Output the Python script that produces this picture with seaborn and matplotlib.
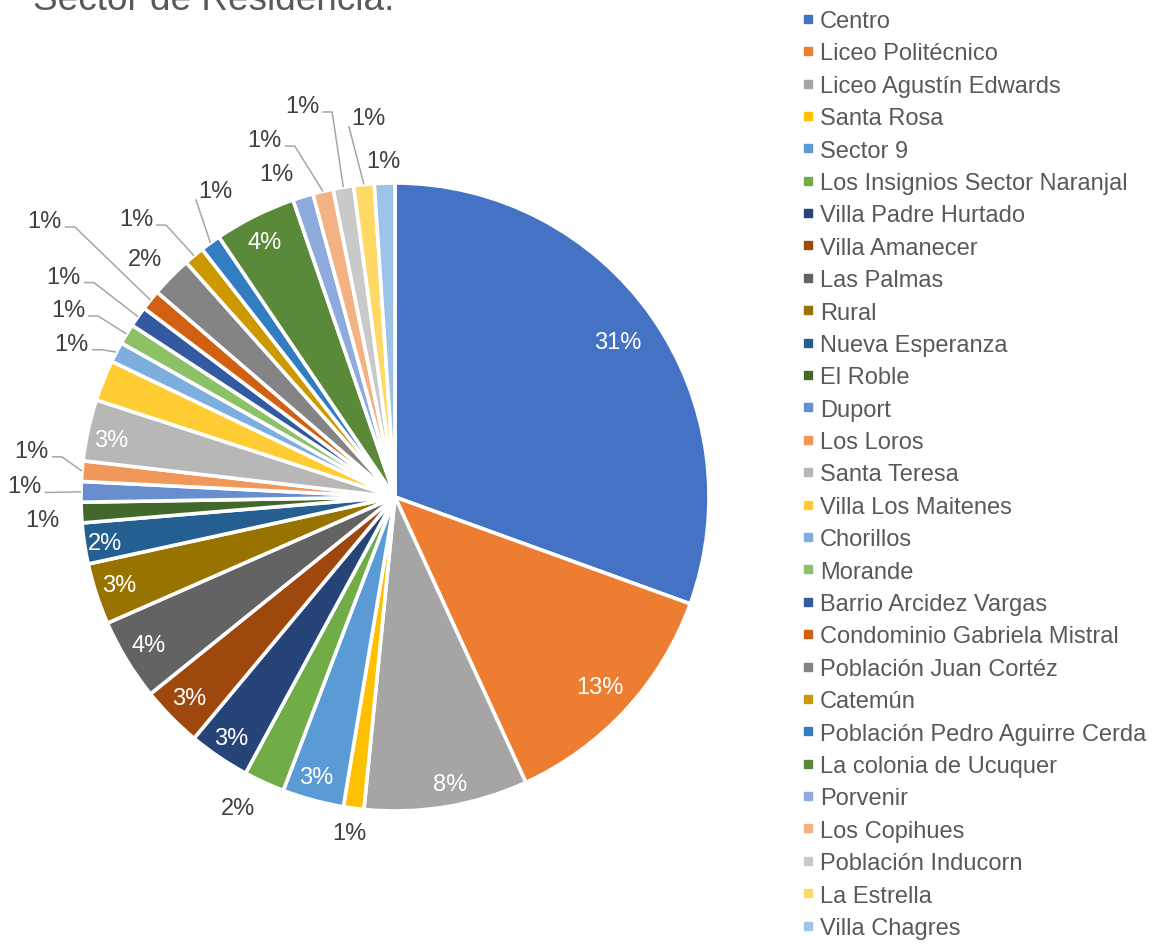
import numpy as np
import matplotlib
matplotlib.use("Agg")
import matplotlib.pyplot as plt
from matplotlib.lines import Line2D
import seaborn as sns

# ---------------- data ----------------
title = "Sector de Residencia."
sectors = [
    "Centro", "Liceo Politécnico", "Liceo Agustín Edwards", "Santa Rosa", "Sector 9",
    "Los Insignios Sector Naranjal", "Villa Padre Hurtado", "Villa Amanecer", "Las Palmas",
    "Rural", "Nueva Esperanza", "El Roble", "Duport", "Los Loros", "Santa Teresa",
    "Villa Los Maitenes", "Chorillos", "Morande", "Barrio Arcidez Vargas",
    "Condominio Gabriela Mistral", "Población Juan Cortéz", "Catemún",
    "Población Pedro Aguirre Cerda", "La colonia de Ucuquer", "Porvenir", "Los Copihues",
    "Población Inducorn", "La Estrella", "Villa Chagres",
]
counts = [29, 12, 8, 1, 3, 2, 3, 3, 4, 3, 2, 1, 1, 1, 3, 2, 1, 1, 1, 1, 2, 1, 1, 4, 1, 1, 1, 1, 1]

# ---------------- styles ----------------
colors = sns.color_palette([
    "#4472C4", "#ED7D31", "#A5A5A5", "#FFC000", "#5B9BD5", "#70AD47",
    "#264478", "#9E480E", "#636363", "#997300", "#255E91", "#43682B",
    "#698ED0", "#F1975A", "#B7B7B7", "#FFCD33", "#7CAFDD", "#8CC168",
    "#335AA0", "#D26012", "#848484", "#CC9A00", "#327DC2", "#5A8A39",
    "#8FAADC", "#F4B183", "#C9C9C9", "#FFD966", "#9DC3E6",
])
# label placement per slice: (kind, angle offset in deg clockwise, radius factor)
label_style = [
    ("in", 0.3, 0.865), ("in", 0.1, 0.89), ("in", -1.4, 0.93), ("out", 0.2, 1.08),
    ("in", 0.6, 0.926), ("out", 2.2, 1.11), ("in", 0.1, 0.927), ("in", 0.2, 0.915),
    ("in", 0.2, 0.915), ("in", 0.3, 0.922), ("in", -0.5, 0.935), ("out", -0.9, 1.124),
    ("lead", 0.7, 1.18), ("lead", 2.5, 1.166), ("in", -0.9, 0.922), (None, 0, 0),
    ("lead", -2.1, 1.139), ("lead", -1.5, 1.2), ("lead", -1.4, 1.267), ("lead", -0.6, 1.42),
    ("out", -1.0, 1.10), ("lead", -3.2, 1.21), ("leadb", 5.5, 1.13), ("in", -0.6, 0.912),
    ("out", -3.1, 1.096), ("lead", -6.8, 1.21), ("lead", -3.9, 1.28), ("leadb", 1.6, 1.21),
    ("out", -0.1, 1.07),
]

W, H = 1155, 945
DPI = 100
sns.set_theme(style="white")
plt.rcParams["font.family"] = ["Liberation Sans", "DejaVu Sans"]

fig = plt.figure(figsize=(W / DPI, H / DPI), dpi=DPI)
cx, cy, R = 395, 498, 314
ax = fig.add_axes([(cx - R) / W, (H - cy - R) / H, 2 * R / W, 2 * R / H])

wedges, _ = ax.pie(
    counts, colors=colors, startangle=90, counterclock=False, radius=1.0,
    wedgeprops=dict(edgecolor="white", linewidth=2.6),
)
ax.set_xlim(-1, 1)
ax.set_ylim(-1, 1)
ax.set_aspect("equal")
ax.axis("off")

total = sum(counts)
cum = np.cumsum([0] + counts)
px = 1.0 / R  # one pixel in data units

texts = []
for i, (kind, off, rad) in enumerate(label_style):
    if kind is None:
        texts.append(None)
        continue
    mid = (cum[i] + counts[i] / 2) / total * 360.0
    th = np.deg2rad(mid + off)
    x, y = rad * np.sin(th), rad * np.cos(th)
    pct = f"{round(100 * counts[i] / total)}%"
    col = "white" if kind == "in" else "#404040"
    t = ax.text(x, y, pct, ha="center", va="center", fontsize=17, color=col, clip_on=False)
    texts.append((t, kind, np.deg2rad(mid)))

fig.canvas.draw()
renderer = fig.canvas.get_renderer()
inv = ax.transData.inverted()
for item in texts:
    if item is None:
        continue
    t, kind, thm = item
    if kind not in ("lead", "leadb"):
        continue
    bb = t.get_window_extent(renderer)
    (x0, y0), (x1, y1) = inv.transform([[bb.x0, bb.y0], [bb.x1, bb.y1]])
    ycen = (y0 + y1) / 2
    ex, ey = np.sin(thm), np.cos(thm)
    if kind == "lead":
        sx, sy = x1 + 3 * px, ycen - 6 * px
        xs = [sx, sx + 10 * px, ex]
        ys = [sy, sy, ey]
    else:
        sx, sy = x0 - 2 * px, ycen - 8 * px
        xs = [sx, ex]
        ys = [sy, ey]
    ax.plot(xs, ys, color="#A6A6A6", linewidth=1.1, clip_on=False, solid_capstyle="butt")

fig.text(33 / W, 1 - 10 / H, title, fontsize=26.6, color="#595959", ha="left", va="baseline")

handles = [Line2D([0], [0], marker="s", linestyle="none", markerfacecolor=c,
                  markeredgecolor=c, markersize=6) for c in colors]
fig.legend(handles, sectors, loc="upper left", bbox_to_anchor=(801 / W, 1 - 11 / H),
           bbox_transform=fig.transFigure, frameon=False, fontsize=17, labelcolor="#595959",
           handlelength=0.6, handletextpad=0.2, labelspacing=0.44, borderpad=0,
           borderaxespad=0)

fig.savefig("out.png", dpi=DPI)
